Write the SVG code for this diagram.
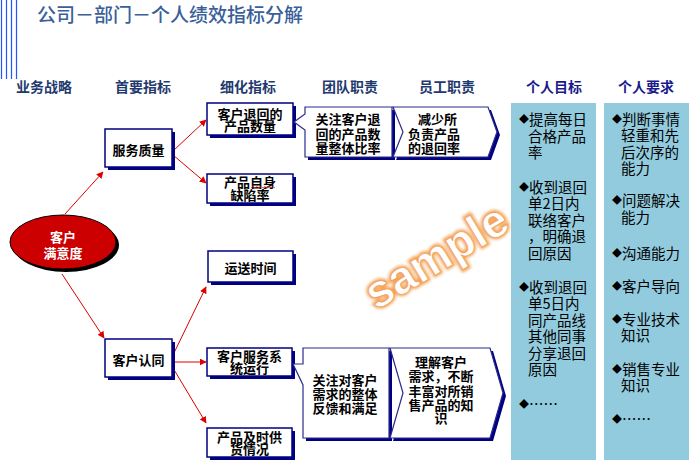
<svg xmlns="http://www.w3.org/2000/svg" width="700" height="468" viewBox="0 0 700 468">
<defs>
<style>
.t{font-family:"Noto Sans CJK SC","Liberation Sans",sans-serif;}
.title{font-size:19px;fill:#3A5F9A;font-weight:500;}
.hd{font-size:14px;font-weight:bold;fill:#1F3A6E;text-anchor:middle;}
.hd2{font-size:14px;font-weight:bold;fill:#1A1A8C;text-anchor:middle;}
.bx{font-size:13px;font-weight:bold;fill:#000;text-anchor:middle;dominant-baseline:central;}
.bxl{font-size:13px;font-weight:bold;fill:#000;dominant-baseline:central;}
.col{font-size:14.5px;fill:#000;dominant-baseline:central;}
.dm{font-size:10px;}
.box{fill:#fff;stroke:#000080;stroke-width:1.5;}
.sh{fill:#000080;}
.arr{stroke:#DD0000;stroke-width:1;fill:none;marker-end:url(#ah);}
.cl{fill:#92CBDD;}
.vl{stroke:#2255FF;stroke-width:1.2;}
</style>
<marker id="ah" viewBox="0 0 10 10" refX="9" refY="5" markerWidth="7" markerHeight="7" orient="auto" markerUnits="userSpaceOnUse">
<path d="M0,0 L10,5 L0,10 Z" fill="#DD0000"/>
</marker>
<filter id="glow" x="-20%" y="-50%" width="140%" height="200%">
<feGaussianBlur stdDeviation="1.5"/>
</filter>
</defs>

<g id="decor">
<line class="vl" x1="1.5" y1="0" x2="1.5" y2="79"/>
<line class="vl" x1="6.5" y1="0" x2="6.5" y2="79"/>
<line class="vl" x1="11.5" y1="0" x2="11.5" y2="79"/>
<line class="vl" x1="16.5" y1="0" x2="16.5" y2="79"/>
</g>

<text class="t title" x="37" y="22">公司－部门－个人绩效指标分解</text>

<g id="headers">
<text class="t hd" x="44" y="92">业务战略</text>
<text class="t hd" x="143" y="92">首要指标</text>
<text class="t hd" x="248" y="92">细化指标</text>
<text class="t hd" x="350" y="92">团队职责</text>
<text class="t hd" x="447" y="92">员工职责</text>
<text class="t hd2" x="554" y="92">个人目标</text>
<text class="t hd2" x="646" y="92">个人要求</text>
</g>

<g id="connectors">
<line class="arr" x1="65" y1="214" x2="103" y2="172"/>
<line class="arr" x1="62" y1="274" x2="104" y2="338"/>
<line class="arr" x1="173" y1="151" x2="206" y2="120"/>
<line class="arr" x1="173" y1="155" x2="206" y2="183"/>
<line class="arr" x1="173" y1="355" x2="206" y2="287"/>
<line class="arr" x1="173" y1="362" x2="206" y2="362"/>
<line class="arr" x1="173" y1="368" x2="206" y2="423"/>
</g>

<g id="n-goal">
<ellipse cx="66" cy="245" rx="53" ry="27" fill="#000"/>
<ellipse cx="63" cy="242" rx="53" ry="27" fill="#CC0000" stroke="#000" stroke-width="1"/>
<text class="t bx" style="fill:#fff"><tspan x="63" y="236">客户</tspan><tspan x="63" y="252">满意度</tspan></text>
</g>

<g id="n-fwzl">
<rect class="sh" x="108" y="132" width="67" height="38"/>
<rect class="box" x="105" y="129" width="67" height="38"/>
<text class="t bx" x="138.5" y="149">服务质量</text>
</g>

<g id="n-khrt">
<rect class="sh" x="108" y="342" width="67" height="38"/>
<rect class="box" x="105" y="339" width="67" height="38"/>
<text class="t bx" x="138.5" y="359">客户认同</text>
</g>

<g id="n-thsl">
<rect class="sh" x="210" y="106" width="86" height="32"/>
<rect class="box" x="207" y="103" width="86" height="32"/>
<text class="t bx"><tspan x="250" y="113">客户退回的</tspan><tspan x="250" y="125">产品数量</tspan></text>
</g>

<g id="n-qxl">
<rect class="sh" x="210" y="177" width="86" height="29"/>
<rect class="box" x="207" y="174" width="86" height="29"/>
<text class="t bx"><tspan x="250" y="181">产品自身</tspan><tspan x="250" y="194">缺陷率</tspan></text>
<path d="M251,188 l2,-1.5 l2,1.5 l2,-1.5 l2,1.5 l2,-1.5 l2,1.5 l2,-1.5 l2,1.5 l2,-1.5 l2,1.5 l2,-1.5 l2,1.5" fill="none" stroke="#E03030" stroke-width="0.8"/>
</g>

<g id="n-yssj">
<rect class="sh" x="211" y="254" width="85" height="31"/>
<rect class="box" x="208" y="251" width="85" height="31"/>
<text class="t bx" x="250.5" y="267">运送时间</text>
</g>

<g id="n-fwxt">
<rect class="sh" x="210" y="351" width="85" height="28"/>
<rect class="box" x="207" y="348" width="85" height="28"/>
<text class="t bx"><tspan x="249.5" y="355">客户服务系</tspan><tspan x="249.5" y="367">统运行</tspan></text>
</g>

<g id="n-gh">
<rect class="sh" x="210" y="431" width="85" height="29"/>
<rect class="box" x="207" y="428" width="85" height="29"/>
<text class="t bx"><tspan x="249.5" y="436">产品及时供</tspan><tspan x="249.5" y="448">货情况</tspan></text>
</g>

<g id="n-team1">
<path class="sh" d="M308,110 H395 V160 H308 Z"/>
<path d="M305,107 H392 V157 H305 V130 L294,122 L305,114 Z" fill="#fff" stroke="#2A2A8C" stroke-width="1.2"/>
<text class="t bx"><tspan x="348" y="118">关注客户退</tspan><tspan x="348" y="133">回的产品数</tspan><tspan x="348" y="147">量整体比率</tspan></text>
</g>

<g id="n-emp1">
<path class="sh" d="M396,110 H491 L500,135 L491,160 H396 L406,135 Z"/>
<path d="M393,107 H488 L497,132 L488,157 H393 L403,132 Z" fill="#fff" stroke="#2A2A8C" stroke-width="1.2"/>
<text class="t bxl"><tspan x="418" y="118">减少所</tspan><tspan x="408" y="133">负责产品</tspan><tspan x="408" y="147">的退回率</tspan></text>
</g>

<g id="n-team2">
<path class="sh" d="M306,351 H392 V441 H306 Z"/>
<path d="M303,348 H389 V438 H303 V385 L293,364 L303,364 Z" fill="#fff" stroke="#2A2A8C" stroke-width="1.2"/>
<text class="t bx"><tspan x="345" y="379">关注对客户</tspan><tspan x="345" y="393">需求的整体</tspan><tspan x="345" y="407">反馈和满足</tspan></text>
</g>

<g id="n-emp2">
<path class="sh" d="M393,351 H493 L506,396 L493,441 H393 L406,396 Z"/>
<path d="M390,348 H490 L503,393 L490,438 H390 L403,393 Z" fill="#fff" stroke="#2A2A8C" stroke-width="1.2"/>
<text class="t bx"><tspan x="441" y="361">理解客户</tspan><tspan x="441" y="375">需求，不断</tspan><tspan x="441" y="390">丰富对所销</tspan><tspan x="441" y="404">售产品的知</tspan><tspan x="441" y="417">识</tspan></text>
</g>

<g id="n-goals">
<rect class="cl" x="511" y="103" width="85" height="357"/>
<text class="t col"><tspan x="519" y="118"><tspan class="dm">◆</tspan>提高每日</tspan><tspan x="528" y="135">合格产品</tspan><tspan x="528" y="151">率</tspan></text>
<text class="t col"><tspan x="519" y="186"><tspan class="dm">◆</tspan>收到退回</tspan><tspan x="528" y="202">单2日内</tspan><tspan x="528" y="219">联络客户</tspan><tspan x="528" y="235">，明确退</tspan><tspan x="528" y="252">回原因</tspan></text>
<text class="t col"><tspan x="519" y="286"><tspan class="dm">◆</tspan>收到退回</tspan><tspan x="528" y="302">单5日内</tspan><tspan x="528" y="319">同产品线</tspan><tspan x="528" y="335">其他同事</tspan><tspan x="528" y="352">分享退回</tspan><tspan x="528" y="368">原因</tspan></text>
<text class="t col" x="519" y="403"><tspan class="dm">◆</tspan>……</text>
</g>

<g id="n-reqs">
<rect class="cl" x="604" y="103" width="85" height="357"/>
<text class="t col"><tspan x="612" y="118"><tspan class="dm">◆</tspan>判断事情</tspan><tspan x="621" y="134">轻重和先</tspan><tspan x="621" y="151">后次序的</tspan><tspan x="621" y="167">能力</tspan></text>
<text class="t col"><tspan x="612" y="199"><tspan class="dm">◆</tspan>问题解决</tspan><tspan x="621" y="216">能力</tspan></text>
<text class="t col" x="612" y="252"><tspan class="dm">◆</tspan>沟通能力</text>
<text class="t col" x="612" y="285"><tspan class="dm">◆</tspan>客户导向</text>
<text class="t col"><tspan x="612" y="318"><tspan class="dm">◆</tspan>专业技术</tspan><tspan x="621" y="334">知识</tspan></text>
<text class="t col"><tspan x="612" y="368"><tspan class="dm">◆</tspan>销售专业</tspan><tspan x="621" y="384">知识</tspan></text>
<text class="t col" x="612" y="418"><tspan class="dm">◆</tspan>……</text>
</g>

<g id="watermark" transform="rotate(-31 436 256)">
<text x="436" y="272" text-anchor="middle" font-family="'Liberation Sans',sans-serif" font-weight="bold" font-size="46" fill="none" stroke="#F5A050" stroke-width="4" filter="url(#glow)">sample</text>
<text x="436" y="272" text-anchor="middle" font-family="'Liberation Sans',sans-serif" font-weight="bold" font-size="46" fill="#fff" stroke="#F0A060" stroke-width="0.8">sample</text>
</g>
</svg>
